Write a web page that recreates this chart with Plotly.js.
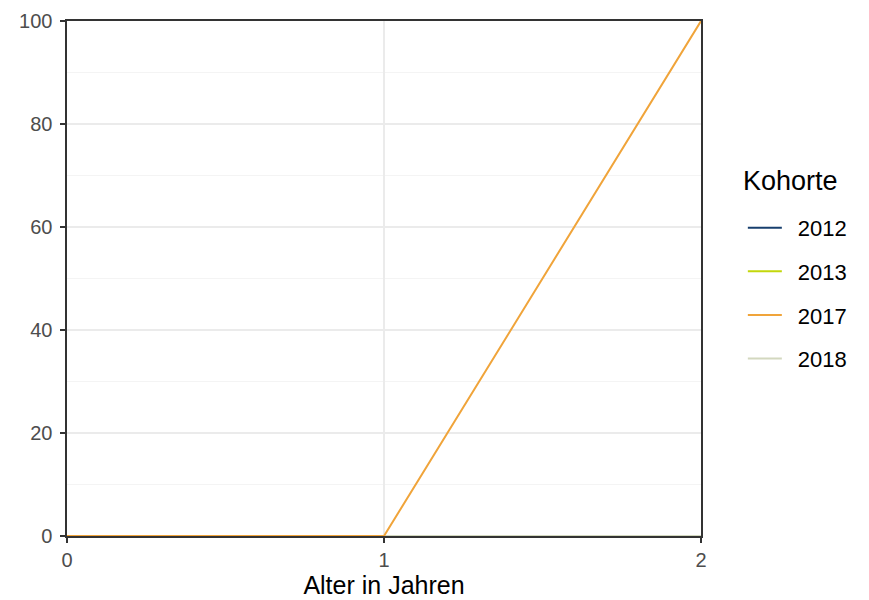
<!DOCTYPE html>
<html>
<head>
<meta charset="utf-8">
<script src="https://cdn.plot.ly/plotly-3.0.1.min.js"></script>
<style>html,body{margin:0;padding:0;background:#fff;}#chart{width:869px;height:600px;}</style>
</head>
<body>
<div id="chart"></div>
<script>
const ages = [0, 1, 2];
const cohorts = ["2012", "2013", "2017", "2018"];
const v2012 = [0, 0, 0];
const v2013 = [0, 0, 0];
const v2017 = [0, 0, 100];
const v2018 = [0, 0, 0];
const colors = ["#173f6e", "#c3d70b", "#f0a43a", "#d3d8bf"];
const series = [v2012, v2013, v2017, v2018];
const drawOrder = [0, 1, 3, 2];

const traces = drawOrder.map(i => ({
  x: ages, y: series[i], type: "scatter", mode: "lines",
  name: "\u2002" + cohorts[i], legendgroup: cohorts[i], legendrank: i + 1,
  line: {color: colors[i], width: 2},
  hoverinfo: "skip"
}));

const layout = {
  width: 869, height: 600,
  margin: {l: 67, r: 168, t: 21, b: 64},
  paper_bgcolor: "#ffffff", plot_bgcolor: "#ffffff",
  font: {family: "Liberation Sans, Arial, sans-serif", color: "#000"},
  xaxis: {
    range: [0, 2], tickvals: [0, 1, 2], ticktext: ["0", "1", "2"],
    showgrid: true, gridcolor: "#ebebeb", gridwidth: 1.6,
    zeroline: false, showline: true, linecolor: "#333333", linewidth: 1.6, mirror: true,
    ticks: "outside", ticklen: 5, tickcolor: "#333333", tickwidth: 1.6,
    tickfont: {size: 20, color: "#4d4d4d"},
    title: {text: "Alter in Jahren", font: {size: 25, color: "#000"}, standoff: 4}
  },
  yaxis: {
    range: [0, 100], tickvals: [0, 20, 40, 60, 80, 100],
    showgrid: true, gridcolor: "#ebebeb", gridwidth: 1.6,
    minor: {tickvals: [10, 30, 50, 70, 90], showgrid: true, gridcolor: "#f3f3f3", gridwidth: 0.9},
    zeroline: false, showline: true, linecolor: "#333333", linewidth: 1.6, mirror: true,
    ticks: "outside", ticklen: 5, tickcolor: "#333333", tickwidth: 1.6,
    ticklabelstandoff: 4,
    tickfont: {size: 20, color: "#4d4d4d"}
  },
  annotations: [{
    text: "Kohorte", xref: "paper", yref: "paper",
    x: 1.063, xanchor: "left", y: 0.689, yanchor: "middle",
    showarrow: false, font: {size: 27, color: "#000"}
  }],
  legend: {
    x: 1.066, xanchor: "left", y: 0.639, yanchor: "top",
    font: {size: 22, color: "#000"},
    traceorder: "grouped", tracegroupgap: 12,
    itemwidth: 34, bgcolor: "rgba(0,0,0,0)"
  },
  showlegend: true
};

Plotly.newPlot("chart", traces, layout, {displayModeBar: false, staticPlot: true});
</script>
</body>
</html>
